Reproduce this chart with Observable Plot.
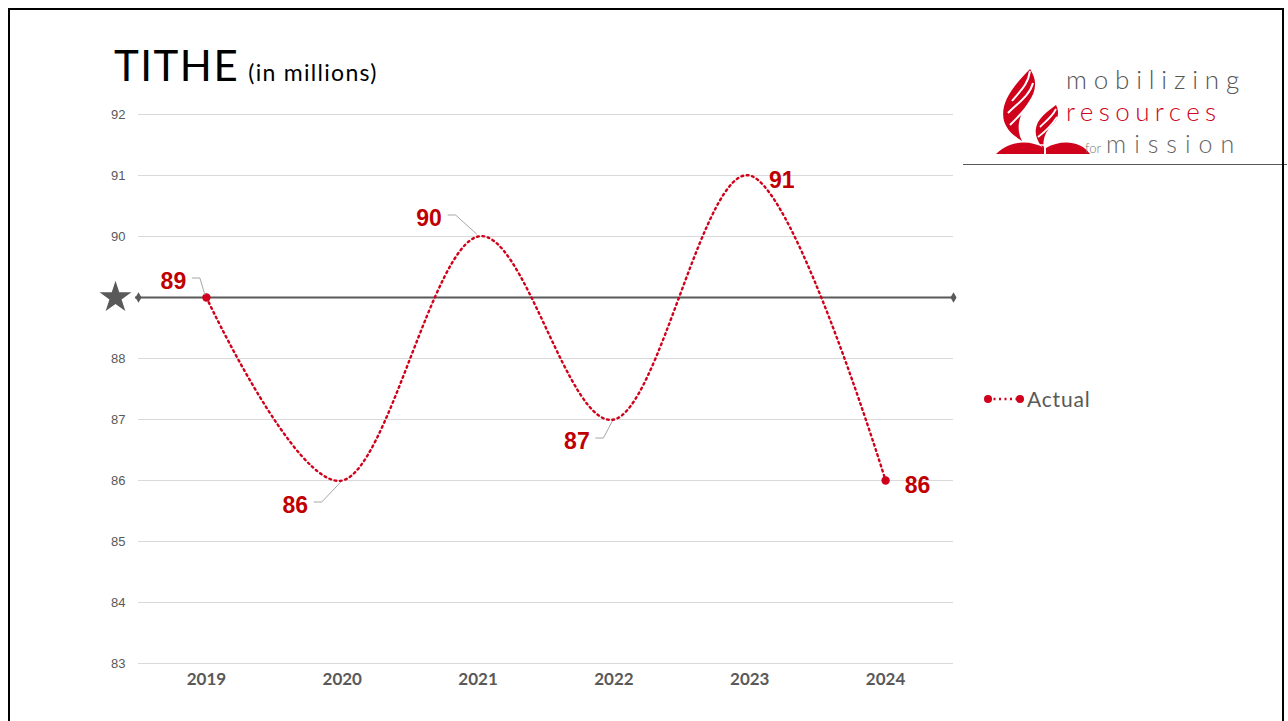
<!DOCTYPE html>
<html>
<head>
<meta charset="utf-8">
<script src="https://cdn.jsdelivr.net/npm/d3@7"></script>
<script src="https://cdn.jsdelivr.net/npm/@observablehq/plot@0.6"></script>
<style>
  html, body { margin: 0; padding: 0; background: #fff; }
  #page { position: relative; width: 1288px; height: 721px; overflow: hidden; font-family: Lato, "Open Sans", sans-serif; }
  #frame { position: absolute; left: 8px; top: 8px; width: 1276px; height: 740px; border: 2.5px solid #000; box-sizing: border-box; pointer-events: none; }
  #chart { position: absolute; left: 0; top: 0; }
  #title { position: absolute; left: 114px; top: 40px; color: #000; white-space: nowrap; }
  #title .big { font-size: 42px; letter-spacing: 1.5px; font-weight: 400; }
  #title .small { font-size: 23px; margin-left: 9px; letter-spacing: 1.3px; }
  #legend { position: absolute; left: 982px; top: 386px; display: flex; align-items: center; }
  #legend span { font-size: 21px; color: #595959; margin-left: 1px; letter-spacing: 0.8px; }
  #logo { position: absolute; left: 990px; top: 55px; width: 275px; height: 106px; }
  #logoRule { position: absolute; left: 963px; top: 164px; width: 324px; height: 1px; background: #595959; }
</style>
</head>
<body>
<div id="page">
  <div id="chart"></div>
  <div id="title"><span class="big">TITHE</span><span class="small">(in millions)</span></div>
  <div id="legend">
    <svg width="44" height="20">
      <line x1="6" y1="10" x2="38" y2="10" stroke="#d0021b" stroke-width="2.5" stroke-dasharray="2 3.5"/>
      <circle cx="6" cy="10" r="4" fill="#d0021b"/>
      <circle cx="38" cy="10" r="4" fill="#d0021b"/>
    </svg>
    <span>Actual</span>
  </div>
  <svg id="logo" viewBox="0 0 275 106">
    <!-- flame strokes -->
    <path d="M40 14 C20 34 10 50 14 66 C18 79 30 84 32 86 C26 74 28 62 38 48 C46 37 48 26 40 14 Z" fill="#d0021b"/>
    <path d="M22 46 C30 36 38 30 40 16" stroke="#fff" stroke-width="2" fill="none"/>
    <path d="M18 58 C28 48 40 40 43 28" stroke="#fff" stroke-width="2" fill="none"/>
    <path d="M20 70 C30 60 40 50 44 40" stroke="#fff" stroke-width="2" fill="none"/>
    <path d="M66 50 C52 60 44 68 46 80 C48 88 52 92 54 94 C52 84 56 76 62 70 C68 64 70 58 66 50 Z" fill="#d0021b"/>
    <path d="M50 72 C56 66 62 62 66 54" stroke="#fff" stroke-width="1.8" fill="none"/>
    <path d="M48 82 C56 76 62 70 67 62" stroke="#fff" stroke-width="1.8" fill="none"/>
    <!-- book -->
    <path d="M6 99 C20 85 40 85 54 93 L54 99 Z" fill="#d0021b"/>
    <path d="M56 93 C70 85 90 85 100 99 L56 99 Z" fill="#d0021b"/>
    <path d="M55 85 L55 101 M50 90 L60 90" stroke="#fff" stroke-width="1.5"/>
    <text x="76" y="34" font-family="Lato, sans-serif" font-weight="300" font-size="26" fill="#555" letter-spacing="6.8">mobilizing</text>
    <text x="76" y="66" font-family="Lato, sans-serif" font-weight="300" font-size="26" fill="#d0021b" letter-spacing="5.4">resources</text>
    <text x="95" y="98" font-family="Lato, sans-serif" font-weight="300" font-size="13" fill="#777">for</text>
    <text x="116" y="98" font-family="Lato, sans-serif" font-weight="300" font-size="25" fill="#666" letter-spacing="8">mission</text>
  </svg>
  <div id="logoRule"></div>
  <div id="frame"></div>
</div>
<script>
// ---- data ----
const years = [2019, 2020, 2021, 2022, 2023, 2024];
const actual = [89, 86, 90, 87, 91, 86];
const labelPlacement = ["nw", "sw-far", "nw-far", "sw", "e", "e"];
const target = 89;
const yTicks = [83, 84, 85, 86, 87, 88, 89, 90, 91, 92];
const yDomain = [83, 92];

// ---- styling ----
const red = "#d0021b";
const labelRed = "#c00000";
const gray = "#595959";
const placementOffsets = {
  "nw": [-33, -16],
  "nw-far": [-49, -18],
  "sw": [-37, 22],
  "sw-far": [-47, 25],
  "e": [32, 5]
};

const data = years.map((year, i) => ({year, value: actual[i], placement: labelPlacement[i]}));
const xDomain = [years[0] - 0.5, years[years.length - 1] + 0.5];
const ends = [data[0], data[data.length - 1]];
const targetEnds = xDomain.map(x => ({x, y: target}));
// the star sits over the target's tick label, so that label is not shown
const yLabelTicks = yTicks.filter(t => t !== target);

const labelMarks = Object.entries(placementOffsets).map(([key, [dx, dy]]) =>
  Plot.text(data.filter(d => d.placement === key), {
    x: "year", y: "value", text: d => String(d.value), dx, dy,
    fill: labelRed, fontSize: 23, fontWeight: "bold",
    fontFamily: "Liberation Sans, Arial, sans-serif"
  })
);

const plot = Plot.plot({
  width: 1288,
  height: 721,
  marginLeft: 138,
  marginRight: 335,
  marginTop: 114,
  marginBottom: 58,
  style: {fontFamily: "Liberation Sans, Arial, sans-serif", color: gray, background: "transparent"},
  x: {type: "linear", domain: xDomain},
  y: {domain: yDomain},
  marks: [
    Plot.gridY(yTicks, {stroke: "#d9d9d9", strokeOpacity: 1, strokeWidth: 1}),
    Plot.axisY(yLabelTicks, {tickSize: 0, tickPadding: 13, fontSize: 13, fill: gray, label: null, tickFormat: "d"}),
    Plot.axisX(years, {tickSize: 0, tickPadding: 9, fontSize: 17, fontWeight: "bold", fill: gray, label: null, tickFormat: "d", fontFamily: "Lato, sans-serif", letterSpacing: 1.2}),
    Plot.ruleY([target], {stroke: gray, strokeWidth: 2, insetLeft: -3}),
    Plot.dot(targetEnds, {x: "x", y: "y", symbol: "diamond", r: 3.2, fill: gray, stroke: null}),
    Plot.dot([targetEnds[0]], {x: "x", y: "y", symbol: "star", r: 10, fill: gray, stroke: null, dx: -23}),
    Plot.line(data, {x: "year", y: "value", curve: "cardinal", stroke: red, strokeWidth: 2.4, strokeDasharray: "1.8 3.6"}),
    Plot.dot(ends, {x: "year", y: "value", r: 4.2, fill: red, stroke: null}),
    ...labelMarks
  ]
});
document.getElementById("chart").appendChild(plot);

// leader lines from labels to points (left-placed labels), positioned via the plot's own scales
const sx = plot.scale("x"), sy = plot.scale("y");
const svg = d3.select(plot);
data.filter(d => d.placement !== "e").forEach(d => {
  const [dx, dy] = placementOffsets[d.placement];
  const px = sx.apply(d.year), py = sy.apply(d.value);
  const pts = [[px + dx + 19, py + dy - 3], [px + dx + 27, py + dy - 3], [px - 1, py - (dy < 0 ? 2 : -2)]];
  svg.append("path")
    .attr("d", d3.line()(pts))
    .attr("fill", "none")
    .attr("stroke", "#a6a6a6")
    .attr("stroke-width", 1);
});
</script>
</body>
</html>
